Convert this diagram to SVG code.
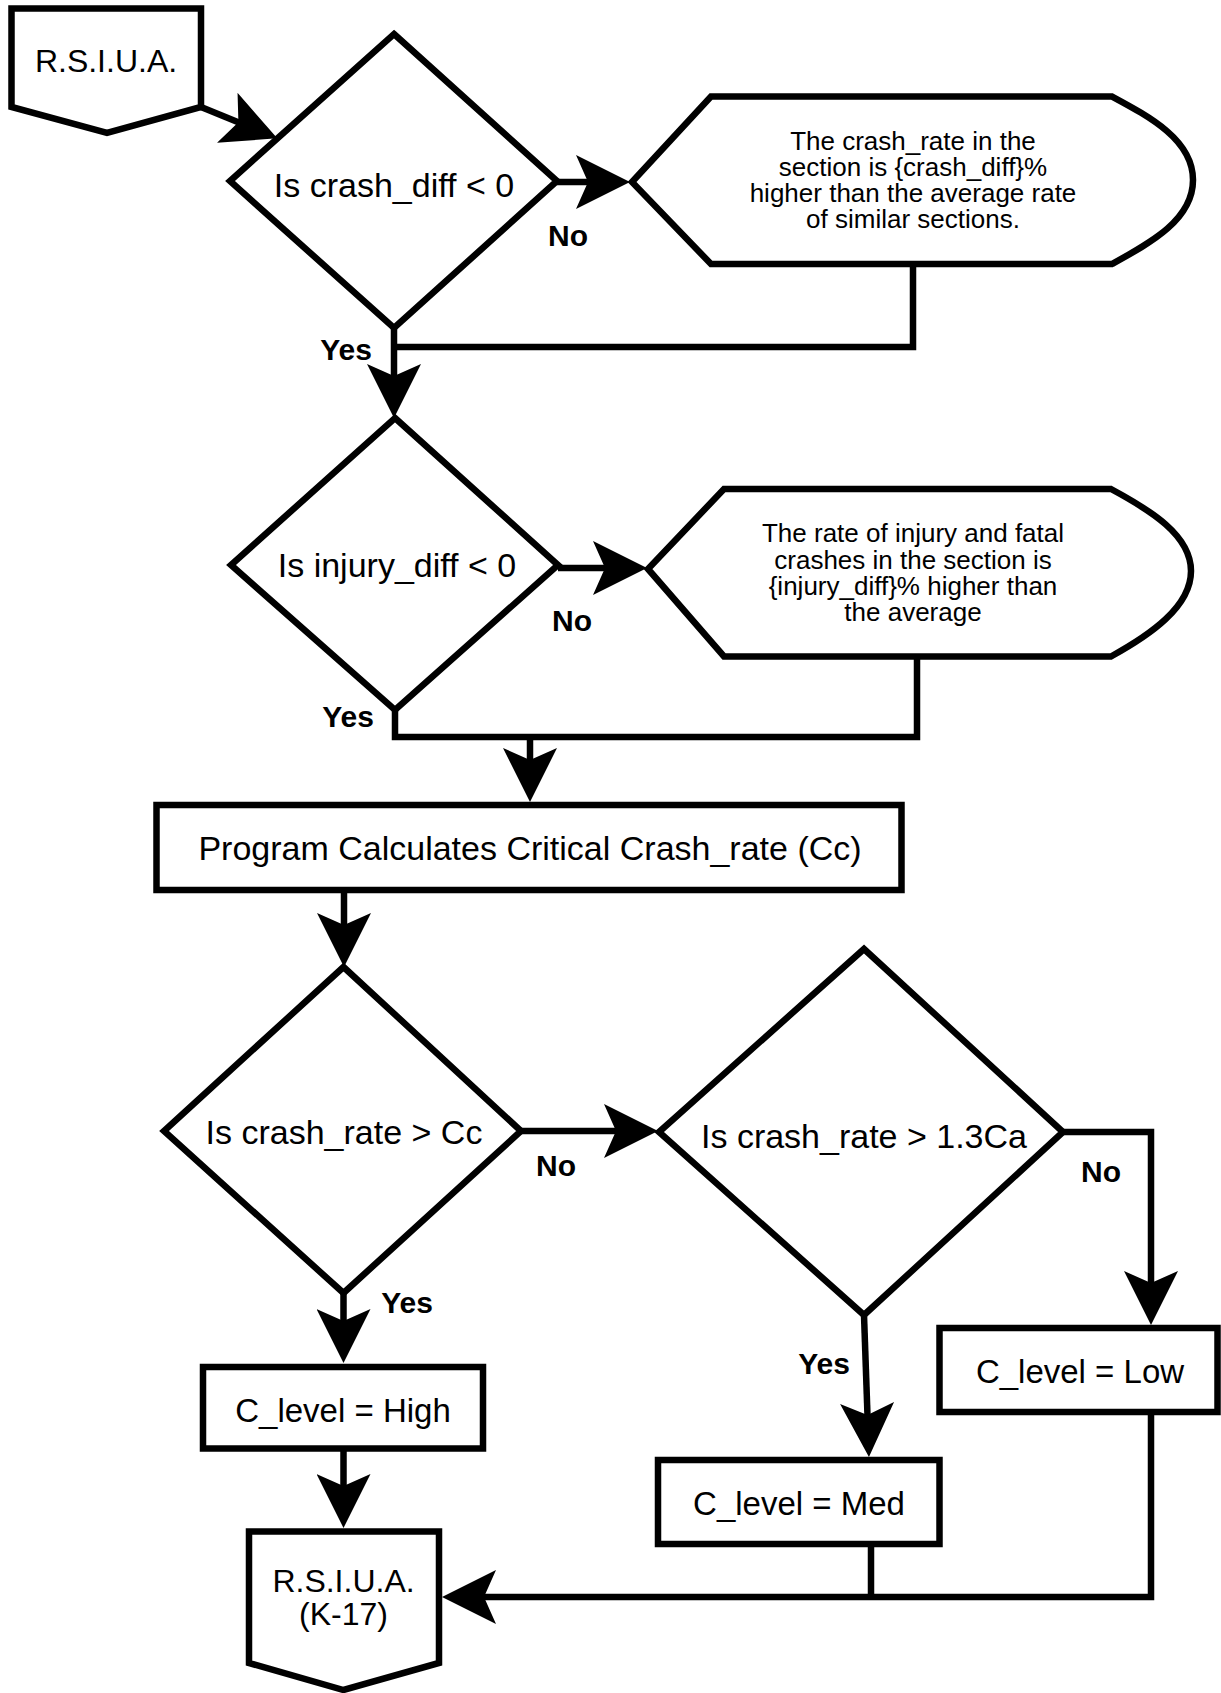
<svg xmlns="http://www.w3.org/2000/svg" width="1221" height="1693" viewBox="0 0 1221 1693">
<style>
.s{fill:#fff;stroke:#000;stroke-width:6.5;stroke-linejoin:miter}
.c{fill:none;stroke:#000;stroke-width:6.5}
.t{font-family:"Liberation Sans",Arial,sans-serif;font-size:34px;fill:#000;text-anchor:middle}
.o{font-family:"Liberation Sans",Arial,sans-serif;font-size:26px;fill:#000;text-anchor:middle}
.l{font-family:"Liberation Sans",Arial,sans-serif;font-size:30px;font-weight:bold;fill:#000;text-anchor:middle}
</style>
<defs>
<marker id="a" markerUnits="userSpaceOnUse" viewBox="0 0 54 54" refX="44" refY="27" markerWidth="54" markerHeight="54" orient="auto">
<path d="M0,0 L54,27 L0,54 L12,27 Z" fill="#000"/>
</marker>
</defs>
<rect width="1221" height="1693" fill="#fff"/>
<g id="connectors">
<path class="c" d="M201,107 L268,134.5" marker-end="url(#a)"/>
<path class="c" d="M557,182 H620" marker-end="url(#a)"/>
<path class="c" d="M913,264 V347 H394"/>
<path class="c" d="M394,328 V408" marker-end="url(#a)"/>
<path class="c" d="M558,568 H637" marker-end="url(#a)"/>
<path class="c" d="M395,710 V737 H917 V657"/>
<path class="c" d="M530,737 V792" marker-end="url(#a)"/>
<path class="c" d="M344,890 V957" marker-end="url(#a)"/>
<path class="c" d="M521,1131 H648" marker-end="url(#a)"/>
<path class="c" d="M343.5,1293 V1353" marker-end="url(#a)"/>
<path class="c" d="M343.5,1448 V1518" marker-end="url(#a)"/>
<path class="c" d="M864,1315 L868.6,1447" marker-end="url(#a)"/>
<path class="c" d="M1063,1132 H1151 V1315" marker-end="url(#a)"/>
<path class="c" d="M871,1544 V1597"/>
<path class="c" d="M1151,1412 V1597 H452" marker-end="url(#a)"/>
</g>
<g id="start">
<path class="s" d="M11.5,8.5 H201 V107 L107,133 L11.5,107 Z"/>
<text class="t" x="106" y="72" style="font-size:32px">R.S.I.U.A.</text>
</g>
<g id="d1">
<path class="s" d="M394,34 L557,181 L394,328 L230,181 Z"/>
<text class="t" x="394" y="197">Is crash_diff &lt; 0</text>
</g>
<g id="out1">
<path class="s" d="M632,182 L711,96.5 H1112 C1150,117 1193,140 1193,180 C1193,220 1150,243 1112,264 H711 Z"/>
<text class="o" x="913" y="150">The crash_rate in the</text>
<text class="o" x="913" y="176">section is {crash_diff}%</text>
<text class="o" x="913" y="202">higher than the average rate</text>
<text class="o" x="913" y="228">of similar sections.</text>
</g>
<g id="d2">
<path class="s" d="M395,418 L558,565 L395,710 L231,565 Z"/>
<text class="t" x="397" y="577">Is injury_diff &lt; 0</text>
</g>
<g id="out2">
<path class="s" d="M648,569 L724,489 H1111 C1150,510 1191,535 1191,571 C1191,607 1150,635 1111,656.5 H724 Z"/>
<text class="o" x="913" y="542">The rate of injury and fatal</text>
<text class="o" x="913" y="568.5">crashes in the section is</text>
<text class="o" x="913" y="595">{injury_diff}% higher than</text>
<text class="o" x="913" y="621">the average</text>
</g>
<g id="calc">
<rect class="s" x="156.5" y="805" width="745" height="85"/>
<text class="t" x="530" y="860">Program Calculates Critical Crash_rate (Cc)</text>
</g>
<g id="d3">
<path class="s" d="M343.5,967 L521,1131 L343.5,1293 L164,1131 Z"/>
<text class="t" x="344" y="1143.5">Is crash_rate &gt; Cc</text>
</g>
<g id="d4">
<path class="s" d="M864,949 L1063,1132 L864,1315 L659,1132 Z"/>
<text class="t" x="864" y="1147.5">Is crash_rate &gt; 1.3Ca</text>
</g>
<g id="high">
<rect class="s" x="203" y="1367" width="280" height="81.5"/>
<text class="t" x="343" y="1421.5" style="font-size:33px">C_level = High</text>
</g>
<g id="med">
<rect class="s" x="658" y="1460" width="281.5" height="84"/>
<text class="t" x="799" y="1515" style="font-size:33px">C_level = Med</text>
</g>
<g id="low">
<rect class="s" x="939.5" y="1328" width="278" height="84"/>
<text class="t" x="1080" y="1383" style="font-size:33px">C_level = Low</text>
</g>
<g id="end">
<path class="s" d="M249,1531.5 H439 V1663 L343.5,1690 L249,1663 Z"/>
<text class="t" x="343.5" y="1591.5" style="font-size:32px">R.S.I.U.A.</text>
<text class="t" x="343.5" y="1625" style="font-size:32px">(K-17)</text>
</g>
<g id="labels">
<text class="l" x="568" y="246">No</text>
<text class="l" x="346" y="360">Yes</text>
<text class="l" x="572" y="631">No</text>
<text class="l" x="348" y="727">Yes</text>
<text class="l" x="556" y="1176">No</text>
<text class="l" x="1101" y="1182">No</text>
<text class="l" x="407" y="1313">Yes</text>
<text class="l" x="824" y="1374">Yes</text>
</g>
</svg>
